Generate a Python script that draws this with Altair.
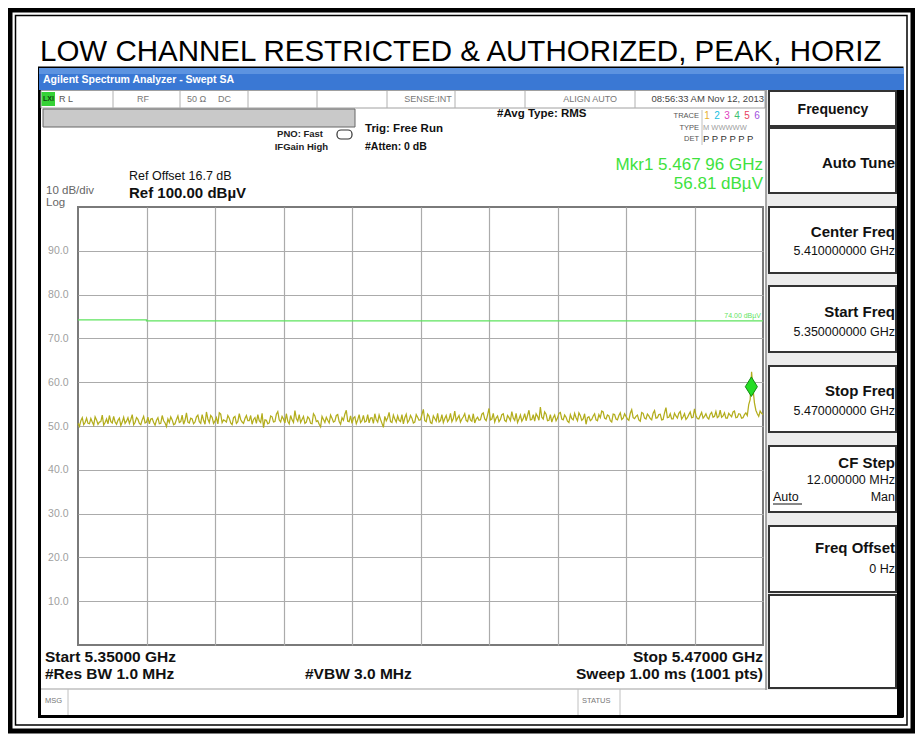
import altair as alt
import numpy as np
import pandas as pd

FONT = "Liberation Sans"

# ---------------- data ----------------
TITLE = "LOW CHANNEL RESTRICTED & AUTHORIZED, PEAK, HORIZ"
F_START, F_STOP = 5.35, 5.47

# trace levels (dBµV) read at even sweep points (every 0.5 MHz)
trace_even = [
    50.6, 51.2, 50.3, 51.8, 50.5, 50.9, 52.1, 50.4, 51.0, 50.2, 51.6, 52.4, 50.7, 50.9, 51.3, 50.1, 52.0, 51.1, 50.6, 52.6,
    50.8, 51.5, 50.3, 52.2, 50.9, 50.5, 51.7, 50.2, 51.9, 50.6, 51.2, 49.9, 50.8, 51.4, 50.5, 52.3, 51.0, 50.4, 53.0, 50.7,
    51.6, 50.9, 52.5, 50.6, 51.3, 53.2, 50.8, 52.0, 51.1, 50.5, 52.7, 51.4, 50.9, 51.8, 50.3, 52.2, 51.0, 51.5, 50.6, 52.4,
    51.2, 50.4, 51.9, 52.6, 50.8, 49.6, 51.3, 50.7, 52.1, 51.0, 53.3, 50.9, 51.6, 52.8, 50.5, 51.4, 53.5, 51.1, 50.8, 52.2,
    50.9, 51.7, 50.5, 52.3, 51.2, 49.8, 51.5, 52.0, 50.7, 51.8, 51.1, 52.6, 50.4, 51.3, 53.6, 51.0, 50.6, 52.1, 51.4, 50.8,
    52.4, 51.1, 50.7, 51.9, 52.8, 50.9, 51.5, 49.7, 51.2, 53.1, 50.8, 51.6, 52.3, 51.0, 50.5, 52.7, 51.3, 51.8, 50.9, 52.0,
    51.4, 53.8, 51.0, 52.2, 50.6, 51.7, 52.9, 51.2, 50.8, 52.4, 51.5, 51.0, 53.4, 51.8, 50.9, 52.1, 51.3, 52.6, 51.1, 50.7,
    52.0, 51.4, 53.0, 51.2, 54.0, 51.6, 50.9, 52.3, 51.5, 52.8, 51.0, 51.9, 53.3, 51.3, 50.8, 52.5, 51.7, 51.2, 53.6, 51.5,
    51.1, 52.2, 54.3, 51.6, 52.7, 51.3, 50.9, 52.5, 51.8, 53.1, 51.4, 52.0, 50.8, 51.7, 52.9, 51.2, 52.4, 51.6, 50.4, 52.1,
    51.5, 52.8, 51.2, 51.9, 53.2, 51.6, 52.3, 50.9, 52.6, 51.4, 53.0, 51.8, 52.2, 51.3, 53.7, 51.7, 52.5, 51.1, 52.9, 51.6,
    52.3, 51.4, 53.5, 51.9, 52.7, 51.5, 54.2, 52.0, 51.6, 52.9, 51.8, 53.3, 52.1, 51.5, 52.6, 51.9, 53.9, 51.7, 52.4, 51.8,
    52.8, 51.6, 53.1, 52.2, 51.9, 53.6, 52.3, 51.8, 52.9, 52.1, 53.4, 52.0, 52.7, 51.9, 53.0, 54.9, 62.4, 55.3, 52.8, 53.4,
    52.6,
]
# trace levels read at the sweep points in between
trace_odd = [
    49.9, 51.9, 50.8, 50.6, 51.7, 50.2, 51.4, 50.9, 52.5, 50.8, 50.5, 51.0, 52.2, 50.4, 51.8, 50.9, 50.6, 51.9, 51.5, 50.3,
    51.9, 50.6, 51.4, 50.7, 52.0, 51.6, 50.8, 51.3, 50.5, 52.4, 50.7, 51.6, 52.1, 50.3, 51.5, 50.8, 52.5, 51.3, 50.9, 51.8,
    50.5, 52.1, 51.0, 52.6, 50.4, 51.6, 52.4, 50.6, 51.9, 53.0, 50.8, 51.2, 52.4, 50.7, 51.9, 50.6, 52.8, 50.9, 51.7, 51.2,
    52.4, 51.5, 50.6, 51.2, 52.9, 51.4, 50.5, 52.3, 50.9, 52.7, 51.4, 52.2, 50.7, 51.1, 52.4, 50.8, 51.7, 52.6, 51.5, 50.6,
    52.1, 50.6, 52.8, 51.0, 50.4, 52.2, 50.8, 51.3, 52.5, 50.9, 52.4, 51.0, 51.9, 52.7, 51.1, 52.3, 51.8, 50.5, 52.6, 51.2,
    50.9, 52.6, 51.8, 50.6, 51.4, 52.5, 50.6, 52.2, 51.9, 51.0, 52.5, 50.9, 51.3, 52.6, 51.9, 50.8, 52.4, 50.7, 52.6, 51.3,
    52.6, 51.2, 52.7, 50.8, 52.3, 51.1, 50.9, 52.6, 51.7, 51.0, 52.9, 51.7, 51.2, 52.4, 51.6, 52.8, 51.0, 51.4, 52.8, 51.6,
    51.3, 52.7, 51.6, 52.5, 51.4, 52.9, 51.8, 51.0, 52.6, 51.3, 52.4, 51.2, 51.8, 52.9, 51.6, 51.1, 52.8, 52.4, 51.4, 52.6,
    52.8, 51.3, 52.0, 53.2, 51.2, 52.6, 51.9, 51.2, 52.9, 51.6, 52.5, 51.1, 52.6, 51.4, 51.9, 53.0, 51.3, 52.8, 51.9, 51.2,
    52.3, 51.4, 52.6, 53.4, 51.8, 52.5, 51.2, 52.7, 51.6, 52.4, 51.5, 52.8, 51.6, 52.9, 51.9, 52.2, 51.4, 53.1, 51.8, 52.7,
    51.7, 52.9, 51.8, 52.6, 51.4, 53.0, 51.9, 52.8, 51.6, 52.3, 52.9, 51.6, 52.8, 51.9, 53.2, 52.0, 52.4, 51.6, 53.1, 52.2,
    51.9, 52.7, 52.0, 53.3, 52.2, 52.0, 53.0, 51.8, 52.5, 53.2, 51.9, 52.8, 51.8, 52.6, 52.4, 56.0, 58.5, 53.6, 52.2, 52.9,
]
trace_level = []
for i, v in enumerate(trace_even):
    trace_level.append(v)
    if i < len(trace_odd):
        trace_level.append(trace_odd[i])
# sweep points are evenly spaced from start to stop frequency
trace_freq = np.linspace(F_START, F_STOP, len(trace_level))

limit_freq = [5.350, 5.362, 5.362, 5.470]
limit_level = [74.25, 74.25, 74.0, 74.0]
limit_label = "74.00 dBµV"

marker_freq = [5.46796]
marker_level = [56.81]

x_grid = [5.362, 5.374, 5.386, 5.398, 5.410, 5.422, 5.434, 5.446, 5.458]
y_grid = [10, 20, 30, 40, 50, 60, 70, 80, 90]

trace_df = pd.DataFrame({"freq": trace_freq, "level": trace_level})
limit_df = pd.DataFrame({"freq": limit_freq, "level": limit_level, "i": list(range(len(limit_freq)))})
marker_df = pd.DataFrame({"freq": marker_freq, "level": marker_level})

# ---------------- geometry ----------------
W, H = 685, 438
PAD_L, PAD_T = 70, 199
TOTAL_W, TOTAL_H = 907, 726
OX, OY = 8 + PAD_L, 8 + PAD_T   # page position of plot origin


def px(x):
    return x - OX


def py(y):
    return y - OY


ONE = alt.Data(values=[{"a": 1}])


def box(x1, y1, x2, y2, fill=None, stroke=None, sw=1.0, r=0):
    kw = dict(strokeWidth=sw)
    if fill is None:
        kw["fill"] = "white"
        kw["fillOpacity"] = 0
    else:
        kw["fill"] = fill
    if stroke is not None:
        kw["stroke"] = stroke
    if r:
        kw["cornerRadius"] = r
    return alt.Chart(ONE).mark_rect(**kw).encode(
        x=alt.value(px(x1)), x2=alt.value(px(x2)),
        y=alt.value(py(y1)), y2=alt.value(py(y2)))


def hline(x1, x2, y, color="#999999", sw=1.0):
    return alt.Chart(ONE).mark_rule(color=color, strokeWidth=sw).encode(
        x=alt.value(px(x1)), x2=alt.value(px(x2)), y=alt.value(py(y)), y2=alt.value(py(y)))


def vline(x, y1, y2, color="#999999", sw=1.0):
    return alt.Chart(ONE).mark_rule(color=color, strokeWidth=sw).encode(
        x=alt.value(px(x)), x2=alt.value(px(x)), y=alt.value(py(y1)), y2=alt.value(py(y2)))


def txt(s, x, y, size=12, weight="normal", color="#111111", align="left", font=FONT):
    return alt.Chart(ONE).mark_text(
        text=s, fontSize=size, fontWeight=weight, color=color, align=align,
        baseline="middle", font=font).encode(x=alt.value(px(x)), y=alt.value(py(y)))


deco = []
# outer double frame of the picture
deco.append(box(10, 10, 913, 731, stroke="black", sw=5))
deco.append(box(15.5, 15.5, 907, 725, stroke="black", sw=1.5))
# title
deco.append(txt(TITLE, 40, 52, size=29.5, color="black"))

# analyzer screen
deco.append(box(39.5, 68, 902, 716.5, stroke="black", sw=3))
deco.append(box(39, 68, 904, 90, fill="#3a78d4"))
deco.append(box(39, 68, 904, 74, fill="#5c93e0"))
deco.append(txt("Agilent Spectrum Analyzer - Swept SA", 43, 80, size=10.5, weight="bold", color="white"))
deco.append(box(897, 90, 904, 717, fill="black"))

# status row
deco.append(box(41, 90.5, 765, 108, stroke="#a0a0a0", sw=1))
for sx in [113, 180, 248, 317, 387, 455, 525, 635]:
    deco.append(vline(sx, 91, 108, color="#b0b0b0"))
deco.append(box(41.5, 92, 55, 106, fill="#36d236"))
deco.append(txt("LXI", 43, 99, size=7, weight="bold", color="#114411"))
deco.append(txt("R L", 59, 99, size=9, color="#555555"))
deco.append(txt("RF", 137, 99, size=9, color="#777777"))
deco.append(txt("50 Ω", 187, 99, size=9, color="#777777"))
deco.append(txt("DC", 218, 99, size=9, color="#777777"))
deco.append(txt("SENSE:INT", 428, 99, size=9, color="#777777", align="center"))
deco.append(txt("ALIGN AUTO", 617, 99, size=9, color="#777777", align="right"))
deco.append(txt("08:56:33 AM Nov 12, 2013", 764, 99, size=9.5, color="#444444", align="right"))

# grey message bar
deco.append(box(43, 109, 355, 127, fill="#c9c9c9", stroke="#666666", sw=1))

deco.append(txt("PNO: Fast", 323, 134, size=9.5, weight="bold", color="#222222", align="right"))
deco.append(txt("IFGain High", 328, 147, size=9.5, weight="bold", color="#222222", align="right"))
deco.append(box(337, 130, 352, 139, stroke="#333333", sw=1.2, r=4))
deco.append(txt("Trig: Free Run", 365, 129, size=11.5, weight="bold", color="#111111"))
deco.append(txt("#Atten: 0 dB", 365, 147, size=10.5, weight="bold", color="#111111"))
deco.append(txt("#Avg Type: RMS", 497, 114, size=11.5, weight="bold", color="#111111"))

deco.append(txt("TRACE", 699, 116, size=7.5, color="#555555", align="right"))
deco.append(txt("TYPE", 699, 128, size=7.5, color="#555555", align="right"))
deco.append(txt("DET", 699, 139, size=7.5, color="#555555", align="right"))
trace_ids = ["1", "2", "3", "4", "5", "6"]
trace_id_colors = ["#e8b030", "#20c0e0", "#e040c0", "#40c070", "#e84060", "#a050e0"]
for i, (tid, tc) in enumerate(zip(trace_ids, trace_id_colors)):
    deco.append(txt(tid, 707 + i * 10, 116, size=10, color=tc, align="center"))
deco.append(txt("M WWWWW", 703, 128, size=7.5, color="#a0a0a0"))
deco.append(txt("P P P P P P", 703, 139, size=9.5, color="#333333"))
deco.append(vline(702, 110, 145, color="#c0c0c0"))

deco.append(txt("Mkr1 5.467 96 GHz", 763, 165, size=17, color="#3ee23e", align="right"))
deco.append(txt("56.81 dBµV", 763, 184, size=17, color="#3ee23e", align="right"))

deco.append(txt("Ref Offset 16.7 dB", 129, 176, size=12.5, color="#111111"))
deco.append(txt("Ref 100.00 dBµV", 129, 193, size=15, weight="bold", color="#111111"))
deco.append(txt("10 dB/div", 46, 191, size=11.5, color="#666666"))
deco.append(txt("Log", 46, 203, size=11.5, color="#666666"))

# soft key panel
deco.append(box(766, 90, 897, 690, fill="#ececec"))
deco.append(vline(766, 90, 690, color="#8a8a8a", sw=1.5))
softkeys = [(91, 126), (128, 193), (207, 273), (286, 352), (366, 432), (446, 512), (526, 592), (595, 688)]
for (y1, y2) in softkeys:
    deco.append(box(769, y1, 896, y2, fill="white", stroke="#333333", sw=2))
deco.append(txt("Frequency", 833, 110, size=14, weight="bold", align="center"))
deco.append(txt("Auto Tune", 895, 163, size=15, weight="bold", align="right"))
deco.append(txt("Center Freq", 895, 232, size=15, weight="bold", align="right"))
deco.append(txt("5.410000000 GHz", 895, 251, size=12.5, align="right"))
deco.append(txt("Start Freq", 895, 312, size=15, weight="bold", align="right"))
deco.append(txt("5.350000000 GHz", 895, 332, size=12.5, align="right"))
deco.append(txt("Stop Freq", 895, 391, size=15, weight="bold", align="right"))
deco.append(txt("5.470000000 GHz", 895, 411, size=12.5, align="right"))
deco.append(txt("CF Step", 895, 463, size=15, weight="bold", align="right"))
deco.append(txt("12.000000 MHz", 895, 480, size=12.5, align="right"))
deco.append(txt("Auto", 773, 497, size=12.5))
deco.append(hline(773, 802, 504, color="#111111", sw=1))
deco.append(txt("Man", 895, 497, size=12.5, align="right"))
deco.append(txt("Freq Offset", 895, 548, size=15, weight="bold", align="right"))
deco.append(txt("0 Hz", 895, 569, size=12.5, align="right"))

# bottom annotations
deco.append(txt("Start 5.35000 GHz", 45, 657, size=15.5, weight="bold"))
deco.append(txt("#Res BW 1.0 MHz", 45, 674, size=15.5, weight="bold"))
deco.append(txt("#VBW 3.0 MHz", 305, 674, size=15.5, weight="bold"))
deco.append(txt("Stop 5.47000 GHz", 763, 657, size=15.5, weight="bold", align="right"))
deco.append(txt("Sweep  1.00 ms (1001 pts)", 763, 674, size=15.5, weight="bold", align="right"))

# message bar
deco.append(hline(41, 766, 689, color="#a0a0a0", sw=1.2))
deco.append(vline(68, 689, 715, color="#c0c0c0"))
deco.append(vline(578, 689, 715, color="#c0c0c0"))
deco.append(vline(620, 689, 715, color="#c0c0c0"))
deco.append(txt("MSG", 45, 701, size=7.5, color="#777777"))
deco.append(txt("STATUS", 582, 701, size=7.5, color="#777777"))

# ---------------- data layers ----------------
xs = alt.Scale(domain=[F_START, F_STOP], nice=False, zero=False)
ys = alt.Scale(domain=[0, 100], nice=False, zero=False)
x_axis = alt.Axis(values=x_grid, grid=True, labels=False, ticks=False, domain=False, title=None,
                  gridColor="#ababab", gridWidth=1.2)
y_axis = alt.Axis(values=y_grid, grid=True, labels=True, ticks=False, domain=False, title=None,
                  format=".1f", labelColor="#a0a0a0", labelFontSize=10.5, labelPadding=10,
                  labelFont=FONT, gridColor="#ababab", gridWidth=1.2)

trace = alt.Chart(trace_df).mark_line(color="#b3ad1c", strokeWidth=1.25).encode(
    x=alt.X("freq:Q", scale=xs, axis=x_axis),
    y=alt.Y("level:Q", scale=ys, axis=y_axis))

limit = alt.Chart(limit_df).mark_line(color="#5fe35f", strokeWidth=1.3).encode(
    x="freq:Q", y="level:Q", order="i:Q")

limit_text = alt.Chart(ONE).mark_text(
    text=limit_label, fontSize=7, color="#5fe35f", align="right", baseline="bottom",
    dx=-2, dy=-2, font=FONT).encode(x=alt.datum(F_STOP), y=alt.datum(74.0))

marker = alt.Chart(marker_df).mark_point(
    shape="M0,-1L0.62,0L0,1L-0.62,0Z", size=380, filled=True, fill="#26dd26",
    stroke="#138a13", strokeWidth=1, opacity=1, yOffset=-9.5).encode(
    x="freq:Q", y="level:Q")

chart = alt.layer(*deco, limit, trace, limit_text, marker).properties(
    width=W, height=H, autosize="none", background="white",
    padding={"left": PAD_L, "top": PAD_T, "right": TOTAL_W - W - PAD_L, "bottom": TOTAL_H - H - PAD_T},
).configure_view(stroke="#7a7a7a", strokeWidth=2).configure_text(font=FONT)

chart.save("out.html", embed_options={"renderer": "svg", "actions": False})
